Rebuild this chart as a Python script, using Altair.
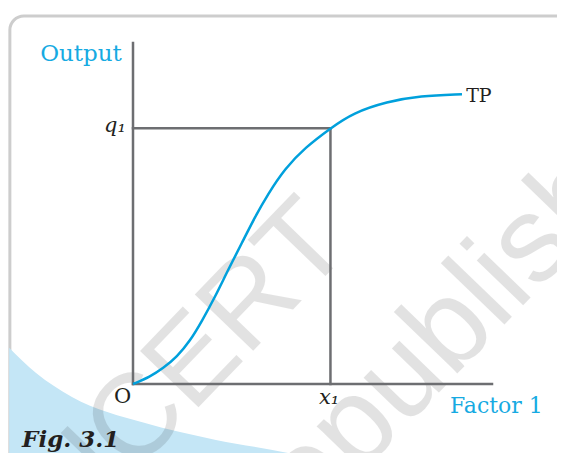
import altair as alt
import pandas as pd

# Total product curve (Factor 1 -> Output)
factor = [0, 0.474, 0.836, 1.226, 1.588, 1.922, 2.284, 2.646, 3.036, 3.398, 3.76, 4.234, 4.791, 5.5, 6.128, 7.075, 7.994, 9.164]
output = [0, 0.214, 0.46, 0.80, 1.26, 1.85, 2.55, 3.34, 4.14, 4.90, 5.57, 6.32, 6.93, 7.5, 7.95, 8.28, 8.45, 8.50]
x1 = 5.5
q1 = 7.5
axis_max = 10

# decorative page elements (in the same data units)
swoosh_x = [-3.45, -2.7, -1.7, 0.31, 2.31, 4.32, 5.32, 6.6]
swoosh_y = [1.06, 0.32, -0.38, -1.14, -1.64, -2.02, -2.26, -2.6]

xs = alt.Scale(domain=[0, axis_max], range=[125, 484], nice=False, zero=False)
ys = alt.Scale(domain=[0, axis_max], range=[376, 35], nice=False, zero=False)

GRAY = "#6d6e71"
BLUE = "#00a0dc"
LBLUE = "#16aae2"
DARK = "#231f20"
SERIF = "DejaVu Serif"

# panel border
panel = alt.Chart(pd.DataFrame({"x": [-3.43], "x2": [13], "y": [10.79], "y2": [-3.5]})).mark_rect(
    fill="white", stroke="#cdcdcd", strokeWidth=3, cornerRadius=14
).encode(
    x=alt.X("x:Q", scale=xs, axis=None), x2="x2:Q",
    y=alt.Y("y:Q", scale=ys, axis=None), y2="y2:Q",
)

sw = pd.DataFrame({"x": swoosh_x, "y": swoosh_y, "y2": [-3.3] * len(swoosh_x)})
swoosh = alt.Chart(sw).mark_area(color="#c4e6f6", interpolate="monotone").encode(
    x=alt.X("x:Q", scale=xs, axis=None),
    y=alt.Y("y:Q", scale=ys, axis=None), y2="y2:Q",
)

wm1 = alt.Chart(pd.DataFrame({"x": [-2.36], "y": [-3.77], "t": ["NCERT"]})).mark_text(
    font="Liberation Sans", fontSize=118, angle=314, align="left", baseline="middle",
    color="black", opacity=0.11,
).encode(
    x=alt.X("x:Q", scale=xs, axis=None), y=alt.Y("y:Q", scale=ys, axis=None), text="t:N"
)
wm2 = alt.Chart(pd.DataFrame({"x": [3.41], "y": [-4.26], "t": ["republished"]})).mark_text(
    font="Liberation Sans", fontSize=122, angle=314, align="left", baseline="middle",
    color="black", opacity=0.11,
).encode(
    x=alt.X("x:Q", scale=xs, axis=None), y=alt.Y("y:Q", scale=ys, axis=None), text="t:N"
)

seg = pd.DataFrame({
    "x": [0, 0, 0, x1],
    "x2": [axis_max, 0, x1, x1],
    "y": [0, 0, q1, 0],
    "y2": [0, axis_max, q1, q1],
})
rules = alt.Chart(seg).mark_rule(color=GRAY, strokeWidth=2.5, strokeCap="square").encode(
    x=alt.X("x:Q", scale=xs, axis=None), x2="x2:Q",
    y=alt.Y("y:Q", scale=ys, axis=None), y2="y2:Q",
)

curve = alt.Chart(pd.DataFrame({"f": factor, "o": output})).mark_line(
    color=BLUE, strokeWidth=2.5, interpolate="basis"
).encode(
    x=alt.X("f:Q", scale=xs, axis=None), y=alt.Y("o:Q", scale=ys, axis=None), order="f:Q"
)


def label(text, x, y, **kw):
    return alt.Chart(pd.DataFrame({"x": [x], "y": [y], "t": [text]})).mark_text(**kw).encode(
        x=alt.X("x:Q", scale=xs, axis=None), y=alt.Y("y:Q", scale=ys, axis=None), text="t:N"
    )


labels = [
    label("Output", -0.31, 9.47, font=SERIF, fontSize=23, color=LBLUE, align="right", baseline="alphabetic"),
    label("Factor 1", 8.83, -0.85, font=SERIF, fontSize=22, color=LBLUE, align="left", baseline="alphabetic"),
    label("TP", 9.28, 8.28, font=SERIF, fontSize=19, color=DARK, align="left", baseline="alphabetic"),
    label("O", -0.29, -0.56, font=SERIF, fontSize=21, color=DARK, align="center", baseline="alphabetic"),
    label("q\u2081", -0.2, 7.39, font=SERIF, fontSize=21, fontStyle="italic", color=DARK, align="right", baseline="alphabetic"),
    label("x\u2081", 5.46, -0.59, font=SERIF, fontSize=21, fontStyle="italic", color=DARK, align="center", baseline="alphabetic"),
    label("Fig. 3.1", -3.09, -1.86, font=SERIF, fontSize=23, fontStyle="italic", fontWeight="bold", color=DARK, align="left", baseline="alphabetic"),
]

chart = alt.layer(panel, swoosh, wm1, wm2, rules, curve, *labels).properties(
    width=549, height=445, autosize=alt.AutoSizeParams(type="none"), padding=0, background="white"
).configure_view(stroke=None)

chart.save("out.html", embed_options={"renderer": "svg", "actions": False})
